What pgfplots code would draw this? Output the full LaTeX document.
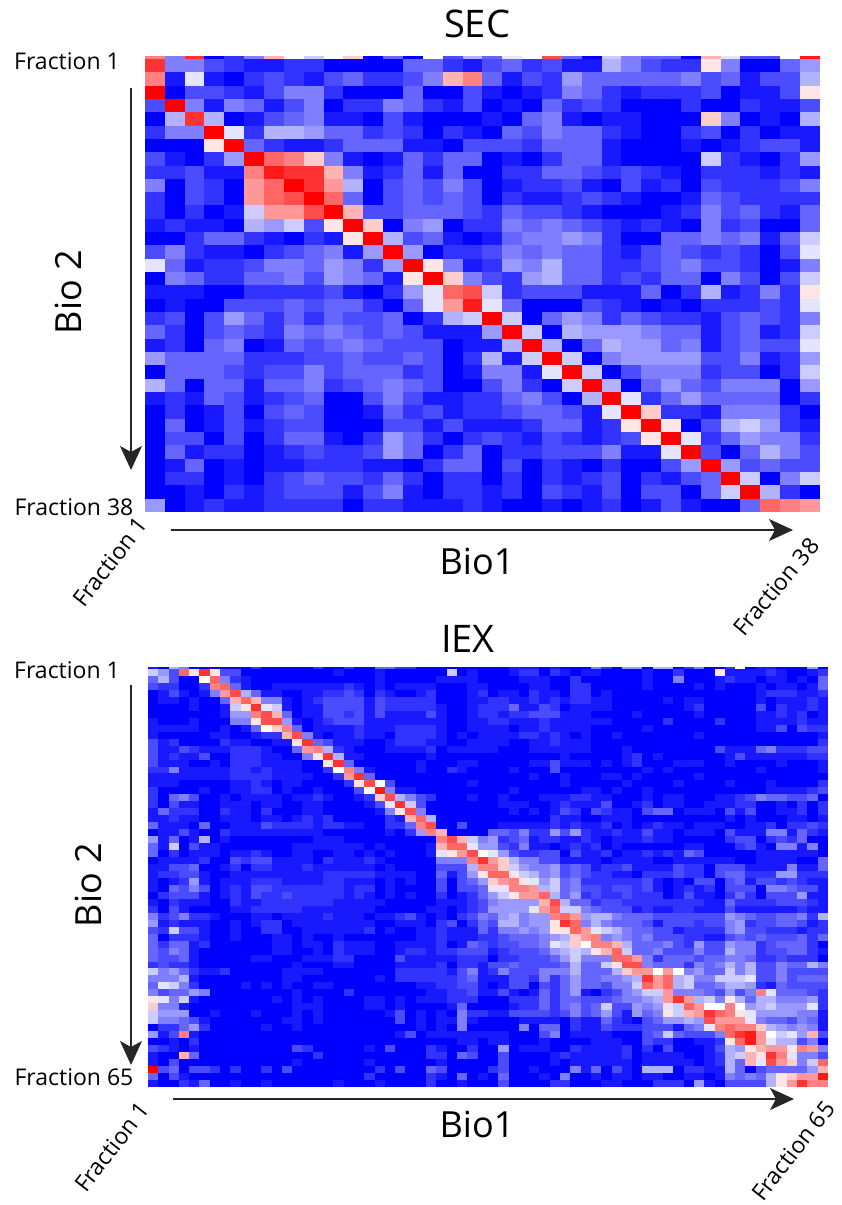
\documentclass[border=0pt]{standalone}
\usepackage{pgfplots}
\usepackage{pgfplotstable}
\usepackage{fontspec}
\setmainfont{Open Sans}
\pgfplotsset{compat=1.18}
\usetikzlibrary{arrows.meta}
\pgfdeclareplotmark{seccell}{\pgfpathrectangle{\pgfpoint{-10.03pt}{-6.78pt}}{\pgfpoint{20.06pt}{13.56pt}}\pgfusepathqfill}
\pgfdeclareplotmark{iexcell}{\pgfpathrectangle{\pgfpoint{-5.25pt}{-3.58pt}}{\pgfpoint{10.5pt}{7.16pt}}\pgfusepathqfill}
\pgfplotstableread[header=false]{
15 5 18 0 2 5 13 10 8 10 12 0 4 0 10 3 7 4 9 10 17 4 0 8 5 4 4 0 13 9 3 3 10 19
18 5 5 3 2 1 1 2 2 0 0 0 0 4 4 2 1 3 4 2 3 1 1 7 5 3 2 2 11 5 0 0 4 6
15 1 9 1 0 2 3 2 1 3 4 2 2 3 5 13 15 4 1 3 2 6 4 4 4 4 4 5 3 4 1 3 3 7
20 0 3 3 2 1 3 5 5 2 0 0 0 4 0 0 3 1 0 1 2 5 4 2 1 2 2 2 3 0 1 1 3 11
3 20 5 1 5 4 1 3 5 0 2 2 5 4 2 1 3 0 1 0 4 2 3 2 0 0 0 2 0 0 2 1 1 3
0 7 18 7 0 1 3 4 5 1 1 0 3 1 0 0 0 1 0 4 5 1 0 1 1 0 0 0 12 5 0 1 0 7
2 5 5 20 9 2 7 7 6 4 4 2 3 2 0 2 1 0 4 3 5 4 4 2 1 0 0 2 3 0 2 0 1 1
0 0 0 11 20 4 2 1 1 2 4 4 4 1 1 0 3 3 3 2 4 4 4 1 0 0 0 1 0 1 2 3 3 1
3 1 0 2 6 20 16 15 12 5 1 0 1 4 2 4 4 0 1 0 2 4 4 1 0 0 0 0 8 2 1 0 2 6
2 2 3 1 1 15 19 18 18 13 5 1 2 4 1 4 0 0 2 2 4 4 3 2 3 2 1 0 2 2 2 1 2 1
5 0 3 2 0 14 16 20 18 14 7 0 3 4 3 5 3 0 1 2 2 3 1 0 3 1 2 0 3 2 2 2 3 5
2 0 3 2 0 14 16 17 20 16 4 0 3 4 3 4 3 0 2 1 1 2 3 2 1 0 0 1 4 3 2 2 2 2
2 0 2 0 1 8 14 14 17 20 13 3 3 4 4 4 3 2 4 3 3 2 1 0 0 0 1 2 5 3 4 2 1 4
1 2 1 1 0 7 6 8 3 11 20 12 0 5 6 0 2 2 5 4 5 4 3 2 1 2 1 0 5 2 3 0 0 4
0 0 2 4 4 2 1 0 2 1 11 20 7 3 4 1 0 1 4 5 5 6 5 2 0 0 4 4 5 4 5 1 4 8
3 5 2 1 1 0 2 3 4 5 1 6 20 6 0 2 2 3 5 4 5 4 4 2 1 3 4 3 2 3 2 0 3 9
9 4 1 2 2 3 5 5 4 6 5 2 6 20 11 5 1 2 6 5 7 4 4 2 2 3 4 5 3 3 2 0 1 5
0 5 4 2 2 4 4 5 3 6 5 4 1 11 20 12 5 3 2 6 7 4 4 2 3 2 4 4 0 5 3 0 3 8
1 1 1 0 0 2 2 2 2 3 1 0 2 6 9 16 17 8 2 3 3 3 1 1 1 4 0 2 7 1 2 5 2 11
0 1 0 0 3 3 3 4 3 4 4 2 0 4 9 14 19 9 4 0 0 0 3 2 1 0 1 0 2 2 2 3 2 9
2 3 0 3 6 4 2 4 2 4 3 3 4 0 2 7 8 20 8 0 4 6 5 2 4 3 2 2 1 3 4 3 2 5
4 2 0 3 4 3 2 5 4 5 4 3 4 3 1 1 1 6 20 8 0 7 6 6 6 5 4 4 1 3 4 1 2 8
1 2 0 4 5 0 1 4 3 4 5 4 3 3 3 0 1 1 7 20 7 0 4 7 6 6 4 5 1 3 4 3 3 9
6 4 4 4 4 2 2 2 3 3 4 3 3 4 3 0 2 7 1 8 20 8 0 5 6 6 6 6 3 3 5 1 2 6
0 4 4 4 3 2 3 3 5 3 4 4 4 2 3 0 1 5 5 1 9 20 8 0 3 5 5 5 2 3 3 0 2 8
7 4 0 4 4 1 4 4 5 2 3 4 5 4 3 0 0 3 5 2 0 8 20 7 0 4 6 4 3 5 5 5 0 6
1 2 1 4 3 1 2 3 4 0 0 3 5 3 1 1 2 2 4 5 3 0 7 20 9 2 4 6 4 4 4 4 0 2
0 2 0 1 3 0 3 4 3 0 0 1 4 2 3 1 2 2 3 4 4 3 1 9 20 12 2 2 1 5 5 5 2 0
0 4 0 1 3 1 2 3 3 0 0 0 3 3 1 3 1 1 1 2 4 4 1 2 11 20 11 0 3 7 8 6 2 1
0 3 3 0 3 0 2 4 4 1 0 2 6 4 2 0 2 3 2 1 3 2 1 2 3 11 20 9 2 4 6 5 5 2
0 4 1 2 2 0 1 2 3 2 2 3 6 4 0 2 4 0 2 2 3 3 3 5 1 1 9 20 3 0 4 7 5 3
0 1 4 0 1 0 1 1 2 2 2 1 1 0 2 4 4 0 3 0 2 1 0 2 0 0 3 6 20 6 3 4 3 3
0 2 2 0 1 0 2 3 4 3 3 2 4 2 0 2 2 0 2 0 2 1 2 3 0 2 1 3 4 20 8 0 5 8
0 0 1 0 2 1 2 3 3 3 1 3 5 1 0 2 2 1 2 0 3 2 1 3 0 3 3 0 4 8 20 7 2 0
6 0 1 2 1 1 2 2 2 2 0 2 2 1 1 1 2 1 0 0 1 0 1 2 0 1 3 1 0 0 4 16 15 14
}\secdata
\pgfplotstableread[header=false]{
1 0 7 5 0 0 0 0 0 0 2 0 0 0 0 0 2 0 0 2 0 0 4 4 2 2 0 0 0 0 0 0 0 0 0 1 1 1 0 1 0 0 0 5 2 0 6 6 0 7 7 0 2 5 0 0 2 10 0 1 1 0 0 0 6 0
8 6 3 16 11 18 11 3 3 0 0 0 0 0 0 0 0 0 1 0 0 0 1 0 0 0 0 0 0 8 0 1 0 0 0 1 2 2 0 2 1 0 1 1 0 0 0 0 1 0 0 2 0 0 0 11 1 1 1 1 2 1 0 0 1 2
4 7 3 0 0 10 16 5 2 1 0 0 0 0 0 0 0 0 0 0 0 0 1 0 0 0 0 0 1 1 1 1 0 0 0 0 1 1 1 0 0 2 0 0 0 0 0 0 1 0 0 5 0 0 0 1 2 1 1 0 1 1 0 1 0 4
3 2 2 0 0 2 15 16 4 1 0 0 1 1 1 1 1 1 1 2 1 0 1 0 1 1 1 1 0 0 0 1 1 0 0 0 0 1 1 0 0 2 2 0 0 0 0 0 1 0 0 0 0 1 0 1 0 0 0 1 0 1 1 0 1 4
0 1 3 1 0 1 5 14 17 7 4 1 1 0 0 1 1 2 2 3 2 0 2 1 0 0 1 2 0 0 0 1 2 0 1 1 0 2 1 1 0 2 2 0 1 0 0 0 0 0 0 0 0 0 0 0 0 0 0 1 2 2 2 1 1 2
0 1 1 0 1 0 0 4 13 16 13 5 5 1 0 1 2 3 3 3 3 1 3 2 2 2 2 2 0 0 0 1 1 2 2 1 1 2 1 2 1 2 2 1 1 0 0 0 0 0 1 0 1 1 0 0 0 0 0 1 0 1 1 1 2 1
0 0 0 0 1 0 0 1 8 11 18 9 8 1 0 1 1 3 3 3 3 1 3 2 2 2 2 2 1 0 0 1 2 2 2 4 1 1 3 2 0 1 1 1 1 0 0 0 0 0 0 0 1 2 0 0 0 0 0 3 0 2 1 1 2 1
0 0 0 0 0 0 0 1 6 6 15 17 13 4 0 1 1 3 3 2 3 1 3 1 1 1 1 3 1 0 0 1 2 2 1 2 2 3 3 3 1 1 1 0 0 0 0 1 0 0 0 0 0 1 0 0 0 0 0 1 1 2 1 2 0 1
1 0 0 0 1 0 0 0 5 5 11 17 17 6 1 0 1 2 3 3 3 1 1 1 1 1 1 1 1 0 0 1 1 2 2 1 1 1 2 1 1 1 1 1 1 0 0 0 0 0 2 0 0 0 0 2 0 0 0 1 1 1 1 2 1 1
1 1 1 1 1 0 0 1 0 1 4 10 12 15 4 0 1 1 1 1 2 1 1 1 2 2 2 2 1 0 0 1 1 1 1 0 1 1 2 1 1 1 1 0 0 0 0 0 1 0 0 0 0 0 0 0 0 0 0 1 1 3 0 3 2 2
1 0 0 0 0 0 1 1 0 0 1 2 2 13 17 5 1 0 1 1 2 1 1 0 2 2 2 2 1 0 1 0 1 1 1 1 2 2 1 2 1 0 1 0 0 1 0 0 0 0 0 0 0 1 0 0 0 0 0 0 0 0 0 0 0 1
3 1 2 0 0 0 0 2 1 1 0 0 1 1 11 18 4 3 1 1 1 0 0 1 2 2 2 1 1 0 0 1 1 1 1 0 0 1 1 2 1 1 1 0 0 0 0 0 0 0 0 0 0 0 0 0 0 0 0 0 0 0 0 0 0 2
3 1 1 3 2 1 1 1 2 2 2 1 0 0 4 14 15 7 2 1 0 0 0 1 1 1 1 2 0 1 1 1 1 1 0 0 0 1 1 1 1 1 1 0 0 0 1 0 0 0 0 0 0 0 0 3 1 1 1 4 5 2 2 2 3 3
3 1 2 1 1 3 0 0 2 2 2 1 1 0 0 5 11 18 7 1 1 0 0 0 0 0 0 1 0 0 0 0 0 0 0 0 0 0 0 0 1 0 0 0 0 0 1 2 0 1 0 0 0 0 0 0 1 3 1 1 1 1 1 1 2 2
3 1 1 1 0 0 1 0 2 2 2 1 1 1 1 0 0 11 18 4 0 0 0 0 0 0 1 0 0 0 1 1 0 0 0 0 0 1 1 3 1 1 1 0 1 0 1 2 0 0 0 1 1 1 0 0 1 0 0 0 0 1 0 0 0 1
2 2 5 1 1 1 1 1 2 2 1 2 1 1 1 0 0 2 10 15 5 1 0 0 0 0 1 0 0 2 1 0 0 0 0 1 0 0 0 3 0 0 0 0 0 0 0 0 1 0 1 0 0 0 0 0 0 0 0 1 0 0 0 0 0 1
1 1 1 1 1 1 1 1 2 2 2 2 1 1 1 1 0 0 2 14 18 4 0 0 0 0 0 0 0 0 0 0 0 0 0 0 0 1 0 0 1 0 0 0 1 1 0 1 0 0 0 0 0 1 0 0 0 0 0 0 0 0 0 0 0 0
1 1 1 0 0 0 0 0 1 1 2 1 0 1 1 0 0 0 0 2 11 17 10 3 0 0 0 0 0 0 0 1 0 0 0 0 0 0 0 0 1 0 0 0 0 0 1 0 0 0 0 1 0 0 0 0 1 0 0 0 1 0 0 0 0 2
2 0 0 0 0 1 0 0 1 1 2 2 0 1 0 0 1 0 0 0 3 10 19 5 1 1 0 0 0 0 0 0 0 0 0 1 0 0 0 0 0 0 1 1 0 1 0 0 1 0 0 0 0 0 0 0 0 0 0 0 1 1 1 1 2 3
2 0 4 5 3 0 0 1 0 1 1 1 1 0 1 1 2 1 0 0 1 2 12 17 7 5 3 2 0 0 0 1 0 0 1 0 0 0 1 1 1 2 2 1 1 0 0 0 1 0 1 1 0 0 0 1 1 2 3 5 4 4 3 3 4 0
2 0 3 1 1 0 0 1 1 1 0 1 1 0 0 1 1 0 0 0 0 1 3 9 18 8 3 0 0 0 0 0 0 0 1 1 1 0 0 1 2 1 1 1 3 0 0 1 2 0 1 1 0 0 1 1 1 2 2 0 0 1 0 2 0 2
1 4 2 2 2 0 0 2 1 1 0 2 0 0 0 1 1 0 0 0 0 0 1 5 11 17 5 0 0 0 0 0 0 0 0 1 0 1 0 1 3 2 0 3 2 1 1 0 3 4 4 0 1 1 1 0 3 1 3 0 0 1 1 2 0 2
1 1 2 1 1 0 0 1 1 1 0 1 1 0 1 2 1 2 0 0 0 0 0 2 1 13 16 7 0 0 0 0 0 0 0 0 0 0 0 2 1 1 0 0 1 1 1 0 0 0 0 0 0 0 0 0 1 0 1 0 0 0 1 1 0 1
4 1 1 1 0 4 0 0 1 1 1 3 2 2 2 2 1 2 2 1 1 0 0 2 2 4 15 17 0 0 3 0 0 0 1 1 1 1 1 2 1 2 1 1 2 0 1 0 1 2 1 1 0 1 1 1 0 0 1 1 2 0 2 2 3 2
0 1 1 3 1 0 0 2 1 1 1 1 1 1 1 1 1 0 0 0 0 0 0 1 0 2 6 15 13 0 0 0 0 4 4 3 5 2 2 6 3 6 2 1 1 2 1 1 3 1 1 0 1 1 1 0 3 1 1 1 5 5 1 4 2 1
6 1 4 0 1 7 0 1 0 0 0 0 0 0 0 0 1 1 1 0 0 0 0 0 0 0 0 0 15 17 13 8 5 6 2 3 4 1 2 2 1 1 2 1 0 1 1 1 2 1 1 0 0 0 0 0 2 3 3 0 2 3 2 4 0 0
4 1 8 0 3 1 1 0 0 0 0 0 0 0 1 1 1 1 1 1 1 0 1 0 0 0 0 1 13 16 16 9 6 6 3 2 5 1 1 0 1 2 1 2 0 1 0 0 0 0 0 0 1 1 0 0 0 2 3 1 0 5 5 1 5 0
4 0 2 0 1 1 1 0 1 1 2 1 0 0 1 1 0 0 1 1 0 1 0 1 0 0 0 1 9 11 14 17 10 9 6 3 2 2 3 3 0 3 1 1 2 0 1 1 2 1 2 1 4 3 0 0 0 0 0 1 1 1 1 1 1 0
0 1 1 1 1 2 0 0 3 2 3 3 1 1 1 1 0 2 1 1 1 2 1 0 0 0 0 0 5 5 5 15 18 14 12 7 5 5 3 3 1 1 1 1 0 1 1 1 1 0 0 1 1 1 1 1 1 0 0 1 1 1 1 0 0 4
1 1 3 3 4 0 0 1 2 0 2 2 1 1 1 2 1 1 1 1 1 1 0 1 0 0 0 0 3 3 3 7 15 15 12 8 6 5 5 6 3 4 3 1 2 2 3 1 1 1 1 3 2 2 0 3 3 3 1 1 1 1 5 1 1 4
1 2 2 3 3 1 0 0 1 1 1 1 1 1 1 1 1 2 2 2 2 2 1 1 1 1 0 0 4 1 3 6 11 16 16 11 8 7 5 6 3 4 3 2 2 1 1 0 2 2 2 3 2 2 0 3 4 4 2 2 2 6 6 2 2 2
1 0 1 2 6 1 0 1 1 1 2 2 2 1 1 1 1 2 2 1 1 1 0 1 0 1 0 0 3 0 3 4 6 12 14 15 11 9 6 8 4 5 2 2 2 2 2 2 3 1 0 1 0 3 3 0 3 4 1 3 3 2 3 2 1 1
1 0 4 3 5 3 0 1 2 1 3 3 2 2 2 2 2 2 2 1 2 2 0 1 0 0 0 0 3 0 3 3 4 9 9 15 15 14 7 8 4 5 3 3 2 3 3 2 3 1 0 1 2 1 2 0 3 3 3 0 5 5 4 3 3 1
0 2 3 3 3 1 0 1 2 1 3 2 2 3 2 2 2 2 2 1 2 1 0 1 0 1 0 0 2 0 1 2 4 6 8 11 14 14 16 7 4 6 2 3 2 2 3 2 2 2 0 1 3 1 1 0 2 4 2 0 3 3 3 6 1 1
1 0 2 1 1 1 0 0 2 1 1 2 2 2 2 2 2 2 1 1 1 1 1 0 0 0 0 0 1 1 1 2 3 5 6 6 6 6 13 17 7 4 4 2 3 3 2 2 2 2 2 2 2 2 1 1 4 2 2 2 2 3 3 3 2 1
2 0 3 1 0 0 0 0 1 1 2 2 2 2 2 1 1 1 1 1 1 1 0 0 0 0 0 1 1 0 1 2 3 6 6 6 6 9 14 16 8 8 5 4 3 3 3 1 2 1 1 2 2 1 1 1 3 1 1 1 1 1 1 2 1 1
5 2 3 5 2 2 1 0 0 0 1 1 0 1 1 1 1 2 1 1 1 0 1 1 2 3 1 0 1 0 2 3 5 4 6 7 5 6 6 15 16 14 6 7 7 5 4 4 4 3 3 3 3 3 3 3 6 5 4 3 3 4 4 5 2 7
6 1 2 1 1 1 0 0 1 0 1 2 2 0 1 1 1 1 1 1 1 1 0 0 1 1 1 0 2 3 0 2 4 3 7 7 5 6 6 11 18 16 5 7 5 4 4 4 3 1 3 3 3 2 3 3 5 6 2 3 3 4 4 3 1 2
3 2 8 3 3 1 0 0 1 0 0 2 2 0 0 1 1 1 1 1 1 2 0 1 0 0 1 1 2 1 1 1 4 2 5 5 6 5 6 11 11 16 14 9 8 7 5 4 4 3 3 1 2 2 2 2 5 6 3 3 2 2 2 1 2 2
4 0 2 2 2 1 0 0 1 0 0 0 1 1 0 1 0 0 1 0 0 0 0 0 0 0 1 1 2 1 1 1 2 2 3 4 4 4 5 6 7 12 14 15 5 6 5 4 5 3 3 3 2 2 1 1 3 4 3 4 3 3 3 4 2 4
4 2 4 4 1 2 0 0 0 0 0 0 1 1 0 1 1 0 2 1 1 1 0 0 1 1 1 1 2 0 1 4 3 2 3 3 4 4 5 9 8 12 10 15 15 13 7 4 4 4 5 3 2 6 3 3 6 5 5 2 3 4 4 4 2 0
4 3 5 4 1 0 0 0 0 0 0 0 1 1 0 0 1 0 2 1 1 1 0 0 1 2 2 1 2 2 3 3 3 1 2 3 3 3 4 6 7 8 7 11 13 16 8 4 4 5 3 3 3 5 3 3 7 5 5 2 3 3 4 4 2 1
4 3 3 4 1 0 0 0 0 0 1 1 0 0 0 1 1 1 2 2 0 0 0 0 3 1 1 1 1 1 2 2 2 0 2 2 3 3 3 4 6 8 5 5 5 16 16 14 5 2 4 4 4 3 4 4 5 5 4 2 2 3 2 2 2 0
2 3 2 2 1 0 0 0 0 0 0 0 0 0 1 0 0 0 1 1 0 0 0 0 1 1 1 1 2 0 2 2 1 3 3 4 3 3 3 3 4 7 4 4 8 11 17 17 5 4 4 4 2 5 4 5 7 5 7 3 3 5 4 4 7 5
8 5 6 4 2 1 1 2 0 0 0 0 0 1 1 1 1 0 0 0 0 0 0 0 2 2 2 2 2 1 3 5 1 2 5 3 3 3 5 5 5 7 4 4 4 7 12 14 14 10 14 10 5 6 4 4 8 5 7 3 3 5 3 3 3 3
5 5 5 7 1 0 0 0 0 0 0 0 0 1 1 0 0 0 0 0 0 0 1 0 2 2 2 2 2 2 3 4 1 1 1 3 3 2 5 2 4 6 4 4 5 5 6 7 18 14 16 7 8 5 5 8 8 8 9 3 3 5 3 4 4 4
4 9 8 5 2 0 0 0 0 1 0 1 0 1 0 0 1 1 0 0 0 0 0 0 0 0 1 1 2 2 3 3 1 0 1 3 3 0 3 2 4 6 4 4 3 5 5 8 16 14 16 7 8 4 4 5 7 7 6 2 1 4 3 3 3 3
5 3 4 4 6 5 0 0 0 0 0 0 0 0 1 0 0 0 0 2 0 0 0 0 0 0 0 1 1 2 2 3 1 1 3 1 0 1 4 2 4 6 1 0 2 3 5 6 8 8 14 5 5 5 4 3 6 3 5 15 9 4 4 4 3 2
11 9 5 8 1 0 0 0 0 0 0 0 1 0 1 0 1 0 0 0 0 1 1 0 1 0 1 1 1 2 2 2 0 0 0 2 2 2 4 2 4 4 3 3 3 4 5 5 6 7 14 18 14 7 8 5 11 7 4 7 7 5 5 5 6 2
12 5 5 1 0 0 0 0 0 0 0 0 0 0 1 1 1 0 0 0 0 1 1 0 1 0 0 0 0 1 4 0 0 0 0 1 2 2 4 2 4 5 3 4 8 3 3 6 5 6 9 8 16 14 10 10 15 10 6 7 8 6 6 6 9 2
8 6 6 6 0 0 1 0 0 0 1 0 0 0 1 0 1 0 0 0 0 0 0 1 3 0 1 0 1 0 5 2 2 1 1 3 3 3 3 2 3 5 3 4 6 3 1 6 4 5 11 8 13 14 18 16 15 11 9 6 6 6 6 5 5 1
8 5 5 4 3 1 0 0 0 0 0 0 0 1 1 0 1 0 0 0 0 0 0 0 3 0 1 0 1 1 5 1 0 0 0 0 1 1 1 1 0 2 1 1 4 2 1 0 3 4 6 6 7 6 17 14 14 14 9 5 4 4 3 5 4 1
0 2 2 4 6 2 0 0 0 0 0 1 0 0 1 0 0 0 0 0 0 0 0 0 0 0 1 0 1 0 5 0 0 0 0 0 5 0 4 4 0 2 1 1 3 2 2 2 3 3 3 1 4 5 9 15 16 15 15 12 7 6 5 6 5 1
6 1 3 15 1 0 0 0 0 0 0 0 0 0 0 0 0 0 0 0 0 0 0 0 1 3 0 1 1 1 1 1 1 1 1 0 0 0 3 5 0 1 1 1 1 0 0 0 3 4 8 4 3 3 3 5 16 18 19 14 10 8 9 6 13 3
0 0 1 0 2 0 0 0 0 0 0 0 0 0 0 0 0 0 0 0 0 0 0 0 0 0 0 0 0 0 1 1 0 1 1 0 0 0 1 0 0 0 0 1 1 1 0 0 3 2 2 0 0 1 1 2 11 16 19 14 9 7 7 3 5 0
3 2 1 0 1 0 0 0 0 0 0 0 0 0 3 2 0 0 0 0 0 1 0 3 0 0 0 2 1 0 0 2 0 0 6 0 1 1 1 0 0 2 1 1 1 1 2 0 2 0 3 0 0 0 1 3 7 6 11 13 14 14 11 15 14 5
1 0 0 13 4 0 0 0 0 0 0 0 0 0 0 0 2 0 0 0 0 0 0 0 0 0 0 2 2 0 4 3 0 0 3 0 0 0 0 1 2 1 1 1 1 1 2 0 1 1 1 1 0 0 1 2 7 8 13 11 18 15 9 5 5 3
1 0 3 0 0 0 0 0 0 0 0 0 0 0 1 0 0 0 0 0 0 1 0 0 0 0 0 0 1 0 0 0 0 0 3 0 0 0 0 1 0 1 1 1 1 1 1 0 1 1 1 1 1 0 1 2 7 4 13 9 17 14 12 5 8 16
20 3 4 0 3 3 2 0 2 0 0 2 0 3 0 0 0 0 0 0 0 0 2 0 3 0 0 4 3 0 0 0 0 2 3 0 0 1 0 0 0 5 1 4 0 3 1 0 7 7 7 0 2 2 1 1 7 4 0 3 4 4 4 4 6 13
4 0 3 1 0 0 0 0 0 0 0 0 0 0 0 0 0 0 0 0 0 2 0 0 0 0 0 2 1 0 4 0 1 0 4 0 0 0 1 0 5 0 0 1 0 1 1 0 1 1 0 0 1 1 0 1 5 4 5 4 7 11 12 14 14 19
1 0 0 2 1 4 0 0 1 0 0 1 0 0 0 0 0 0 1 0 0 0 1 0 0 0 0 2 0 0 1 0 0 0 3 0 0 0 0 2 2 0 0 0 1 1 0 0 0 2 2 2 0 6 1 0 3 3 3 3 7 11 14 18 15 15
}\iexdata
\pgfplotsset{
  heat/.style={
    scale only axis, hide axis, y dir=reverse, enlargelimits=false,
    point meta min=0, point meta max=20,
    colormap={bwr}{rgb255(0)=(0,0,255) rgb255(10)=(255,255,255) rgb255(20)=(255,0,0)},
    scatter/use mapped color={draw=mapped color,fill=mapped color},
  }
}
\begin{document}
\begin{tikzpicture}
\useasboundingbox (0pt,0pt) rectangle (841pt,1205pt);
\begin{axis}[heat, at={(145pt,693pt)}, anchor=south west, width=675pt, height=456pt,
  xmin=-0.5, xmax=33.5, ymin=0.27, ymax=34.5]
\pgfplotsinvokeforeach{0,...,33}{
  \addplot[forget plot, scatter, only marks, mark=seccell, point meta=explicit] table[x expr=#1, y expr={max(\coordindex,0.77)}, meta index=#1]{\secdata};
}
\end{axis}
\begin{axis}[heat, at={(148pt,118pt)}, anchor=south west, width=680pt, height=420pt,
  xmin=-0.5, xmax=65.5, ymin=0.2, ymax=60.5]
\pgfplotsinvokeforeach{0,...,65}{
  \addplot[forget plot, scatter, only marks, mark=iexcell, point meta=explicit] table[x expr=#1, y expr={max(\coordindex,0.7)}, meta index=#1]{\iexdata};
}
\end{axis}
\newcommand{\lbl}[4][0]{\node[rotate=#1, inner sep=0pt] at (#2pt,#3pt) {#4};}
\def\small{\fontsize{23}{25}\selectfont}
\def\mid{\fontsize{36}{40}\selectfont}
\def\big{\fontsize{38}{42}\selectfont}
\lbl{477}{1181}{\big SEC}
\lbl{468}{566}{\big IEX}
\lbl{67}{1144}{\small Fraction 1}
\lbl{74}{698}{\small Fraction 38}
\lbl{67}{535}{\small Fraction 1}
\lbl{74}{128}{\small Fraction 65}
\lbl[90]{68}{913}{\mid Bio 2}
\lbl[90]{88}{320}{\mid Bio 2}
\lbl{477}{644}{\mid Bio1}
\lbl{477}{81}{\mid Bio1}
\lbl[52]{110}{643}{\small Fraction 1}
\lbl[50]{776}{618}{\small Fraction 38}
\lbl[52]{112}{58}{\small Fraction 1}
\lbl[52]{793}{54}{\small Fraction 65}
\draw[line width=1.2pt, -{Stealth[length=24pt,width=22pt,inset=6pt]}, black!85] (131pt,1117pt) -- (131pt,735pt);
\draw[line width=1.2pt, -{Stealth[length=24pt,width=22pt,inset=6pt]}, black!85] (171pt,675pt) -- (793pt,675pt);
\draw[line width=1.2pt, -{Stealth[length=24pt,width=22pt,inset=6pt]}, black!85] (131pt,520pt) -- (131pt,140pt);
\draw[line width=1.2pt, -{Stealth[length=24pt,width=22pt,inset=6pt]}, black!85] (173pt,106pt) -- (794pt,106pt);
\end{tikzpicture}
\end{document}
